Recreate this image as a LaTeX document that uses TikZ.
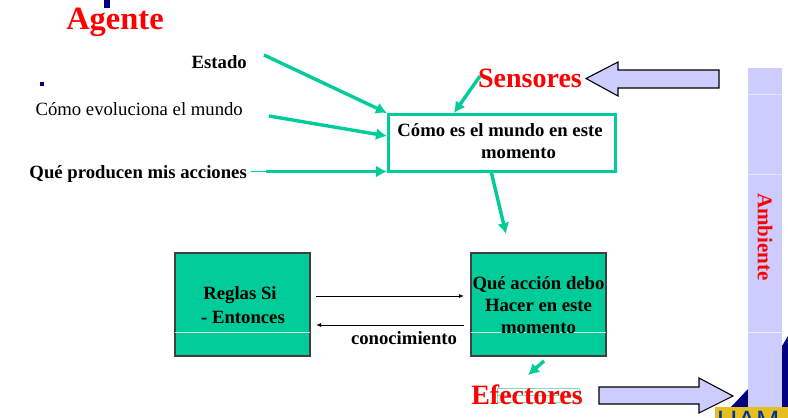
\documentclass[tikz,border=0pt]{standalone}
\usepackage{fontspec}
\setmainfont{Liberation Serif}
\newfontfamily\logofont{Liberation Sans}
\usetikzlibrary{arrows.meta}
\definecolor{verde}{RGB}{0,204,153}
\definecolor{lila}{RGB}{204,204,255}
\definecolor{marino}{RGB}{0,0,128}
\definecolor{oro}{RGB}{230,190,30}
\tikzset{
	titulo/.style={text=red, font=\bfseries\fontsize{28}{32}\selectfont, inner sep=0pt},
	etiqueta/.style={text=black, font=\bfseries\fontsize{18.7}{22}\selectfont, inner sep=0pt},
	caja/.style={draw=black!75, fill=verde, line width=1.2pt, inner sep=0pt},
	flecha/.style={draw=verde, line width=3.4pt, -{Latex[length=11pt,width=12pt]}},
	fina/.style={draw=black, line width=0.9pt, -{Latex[length=5pt,width=4pt]}},
	grande/.style={draw=black, fill=lila, line width=1.1pt}
}
\begin{document}
\begin{tikzpicture}[x=1pt, y=-1pt]
	\useasboundingbox (0,0) rectangle (788,418);

	% ambiente
	\fill[marino] (731,407) -- (748,389) -- (748,407) -- cycle;
	\fill[marino] (782,346) -- (788,336) -- (788,407) -- (782,407) -- cycle;
	\fill[lila] (748,68) rectangle (782,407);
	\draw[white, opacity=0.5] (748,94) -- (782,94);
	\draw[white, opacity=0.5] (748,174) -- (782,174);
	\draw[white, opacity=0.7] (748,332) -- (782,332);
	\node[rotate=-90, text=red, font=\bfseries\fontsize{21}{24}\selectfont, inner sep=0pt] (ambiente) at (765,237) {Ambiente};
	\fill[oro] (715,407) rectangle (788,418);
	\node[anchor=north west, text=marino!80!cyan, font=\logofont\fontsize{28}{28}\selectfont, inner sep=0pt] (uam) at (717,411) {UAM};

	% restos del titulo
	\fill[marino] (104,0) rectangle (110,8);
	\fill[marino] (40,82) rectangle (44,86);

	\node[titulo, font=\bfseries\fontsize{32.5}{36}\selectfont] (agente) at (115,22.5) {Agente};
	\node[titulo] (sensores) at (530,78) {Sensores};
	\draw[verde!55, line width=1pt] (497,388) rectangle (579,402);
	\draw[verde!55, line width=1pt] (497,395) -- (579,395);
	\node[titulo] (efectores) at (527,395) {Efectores};

	% entradas
	\node[etiqueta, anchor=east] (estado) at (247,62) {Estado};
	\node[etiqueta, anchor=east, font=\fontsize{18.7}{22}\selectfont] (evoluciona) at (243,109) {Cómo evoluciona el mundo};
	\node[etiqueta, anchor=east] (producen) at (247,174) {Qué producen mis acciones};

	\node[draw=verde, line width=3pt, fill=white, minimum width=227pt, minimum height=57pt, inner sep=0pt] (mundo) at (501.5,142.5) {};
	\node[etiqueta] (mundoa) at (500,130) {Cómo es el mundo en este};
	\node[etiqueta] (mundob) at (518.5,153) {momento};

	\node[caja, minimum width=135pt, minimum height=103pt] (reglas) at (242.5,304.5) {};
	\node[caja, minimum width=135pt, minimum height=103pt] (accion) at (538.5,304.5) {};
	\draw[white, opacity=0.8] (175,332) -- (310,332);
	\draw[white, opacity=0.8] (471,332) -- (606,332);
	\node[etiqueta] (reglasa) at (240,295) {Reglas Si};
	\node[etiqueta] (reglasb) at (243,317) {- Entonces};
	\node[etiqueta] (acciona) at (538.5,284.5) {Qué acción debo};
	\node[etiqueta] (accionb) at (538.5,305) {Hacer en este};
	\node[etiqueta] (accionc) at (538.5,328) {momento};
	\node[etiqueta] (conocimiento) at (404,338) {conocimiento};

	% conectores
	\coordinate (desdeestado) at (264,55);
	\coordinate (desdeevol) at (269,116);
	\coordinate (desdeprod) at (266,171.5);
	\coordinate (desdesens) at (480,76);
	\coordinate (entradaa) at (387,113);
	\coordinate (entradab) at (387,136);
	\coordinate (entradac) at (387,171.5);
	\coordinate (entradad) at (454,113);
	\coordinate (salidaa) at (491,171);
	\coordinate (salidab) at (506,234);
	\coordinate (efa) at (544,361);
	\coordinate (efb) at (528,375);
	\draw[flecha] (desdeestado) -- (entradaa);
	\draw[flecha] (desdeevol) -- (entradab);
	\draw[flecha] (desdeprod) -- (entradac);
	\draw[verde, line width=1pt] (producen.east) ++ (4,-2.5) -- (desdeprod);
	\draw[flecha] (desdesens) -- (entradad);
	\draw[flecha] (salidaa) -- (salidab);
	\draw[flecha] (efa) -- (efb);

	\coordinate (regder) at (316,296);
	\coordinate (accizq) at (464,296);
	\coordinate (accizqb) at (464,325);
	\coordinate (regderb) at (316,325);
	\draw[fina] (regder) -- (accizq);
	\draw[fina] (accizqb) -- (regderb);

	% flechas grandes
	\draw[grande] (719,70) -- (719,88) -- (618,88) -- (618,96) -- (586,78.5) -- (618,62) -- (618,70) -- cycle;
	\draw[grande] (599,387) -- (699,387) -- (699,378) -- (733,396) -- (699,413) -- (699,404) -- (599,404) -- cycle;
\end{tikzpicture}
\end{document}
